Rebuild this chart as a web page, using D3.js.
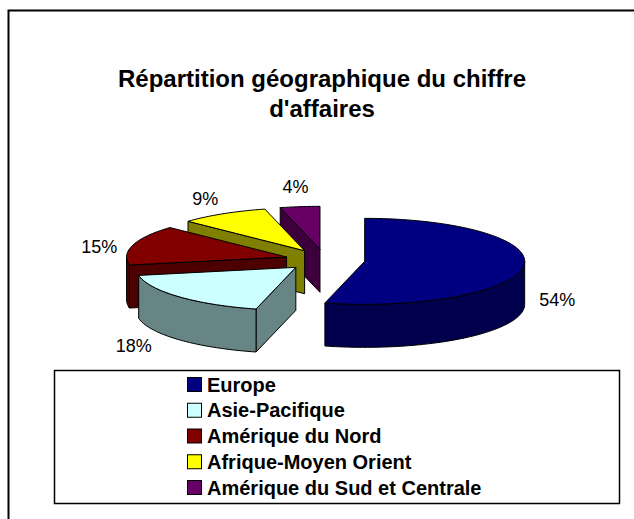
<!DOCTYPE html>
<html>
<head>
<meta charset="utf-8">
<script src="https://cdn.jsdelivr.net/npm/d3@7"></script>
<style>
  body { margin: 0; background: #fff; }
  text { font-family: "Liberation Sans", Arial, sans-serif; }
</style>
</head>
<body>
<div id="chart"></div>
<script>
// data
var categories = ["Europe", "Asie-Pacifique", "Amérique du Nord", "Afrique-Moyen Orient", "Amérique du Sud et Centrale"];
var values = [54, 18, 15, 9, 4];
var topColors = ["#000080", "#ccffff", "#800000", "#ffff00", "#660066"];
var sideColors = ["#00004d", "#668584", "#4d0000", "#808000", "#3d003d"];
var titleLines = ["Répartition géographique du chiffre", "d'affaires"];

var svgWidth = 634;
var svgHeight = 519;

var svg = d3.select("#chart")
    .append("svg")
    .attr("width", svgWidth)
    .attr("height", svgHeight);

// outer frame (runs off the right and bottom edges)
svg.append("rect")
    .attr("x", 8.5)
    .attr("y", 10.5)
    .attr("width", 640)
    .attr("height", 520)
    .attr("fill", "#fff")
    .attr("stroke", "#000")
    .attr("stroke-width", 2);

// title
svg.append("g").selectAll("text")
    .data(titleLines)
    .enter()
    .append("text")
    .attr("x", 322)
    .attr("y", (d, i) => 87 + i * 30)
    .attr("text-anchor", "middle")
    .attr("font-size", "24px")
    .attr("font-weight", "bold")
    .text(d => d);

// pie geometry (3D, exploded)
var cx0 = 325, cy0 = 260;
var rx = 160, ry = 43, depth = 43;
var explode = 0.25;

var color = d3.scaleOrdinal().domain(categories).range(topColors);
var sideColor = d3.scaleOrdinal().domain(categories).range(sideColors);

var pie = d3.pie().sort(null).value(d => d.value);
var arcs = pie(categories.map((c, i) => ({ name: c, value: values[i] })));
var total = d3.sum(values);

function pt(cx, cy, a, dy) {
    return [cx + rx * Math.sin(a), cy - ry * Math.cos(a) + (dy || 0)];
}
function arcPts(cx, cy, a0, a1, dy) {
    var n = Math.max(2, Math.ceil(Math.abs(a1 - a0) / 0.03));
    return d3.range(n + 1).map(k => pt(cx, cy, a0 + (a1 - a0) * k / n, dy));
}
var line = d3.line().curve(d3.curveLinear);

arcs.forEach(function(d) {
    var mid = (d.startAngle + d.endAngle) / 2;
    d.cx = cx0 + explode * rx * Math.sin(mid);
    d.cy = cy0 - explode * ry * Math.cos(mid);
    d.mid = mid;
});

var pieGroup = svg.append("g");
var order = arcs.slice().sort((a, b) => a.cy - b.cy);

order.forEach(function(d) {
    var g = pieGroup.append("g");
    var a0 = d.startAngle, a1 = d.endAngle;
    var side = sideColor(d.data.name);
    // start radial face
    if (Math.sin(a0) < -1e-6) {
        var p = pt(d.cx, d.cy, a0);
        g.append("path")
            .attr("d", line([[d.cx, d.cy], p, [p[0], p[1] + depth], [d.cx, d.cy + depth]]) + "Z")
            .attr("fill", side).attr("stroke", "#000").attr("stroke-width", 1)
            .attr("stroke-linejoin", "round");
    }
    // end radial face
    if (Math.sin(a1) > 1e-6) {
        var q = pt(d.cx, d.cy, a1);
        g.append("path")
            .attr("d", line([[d.cx, d.cy], q, [q[0], q[1] + depth], [d.cx, d.cy + depth]]) + "Z")
            .attr("fill", side).attr("stroke", "#000").attr("stroke-width", 1)
            .attr("stroke-linejoin", "round");
    }
    // curved outer side (front half only)
    var s = Math.max(a0, Math.PI / 2), e = Math.min(a1, 3 * Math.PI / 2);
    if (e > s) {
        var topArc = arcPts(d.cx, d.cy, s, e, 0);
        var botArc = arcPts(d.cx, d.cy, e, s, depth);
        g.append("path")
            .attr("d", line(topArc.concat(botArc)) + "Z")
            .attr("fill", side).attr("stroke", "#000").attr("stroke-width", 1)
            .attr("stroke-linejoin", "round");
    }
    // top face
    g.append("path")
        .attr("d", line([[d.cx, d.cy]].concat(arcPts(d.cx, d.cy, a0, a1, 0))) + "Z")
        .attr("fill", color(d.data.name)).attr("stroke", "#000").attr("stroke-width", 1)
        .attr("stroke-linejoin", "round");
});

// percentage labels, placed round the exploded slices
svg.append("g").selectAll("text")
    .data(arcs)
    .enter()
    .append("text")
    .attr("x", function(d) {
        var sn = Math.sin(d.mid), cs = Math.cos(d.mid);
        return d.cx + 195 * sn + 40 * sn * Math.max(0, -cs) - 6 * Math.max(0, sn);
    })
    .attr("y", function(d) {
        var sn = Math.sin(d.mid), cs = Math.cos(d.mid);
        return d.cy + 22 - 85 * cs + 6 * Math.max(0, sn) - 10 * Math.pow(Math.max(0, -sn), 6);
    })
    .attr("text-anchor", "middle")
    .attr("dominant-baseline", "central")
    .attr("font-size", "18px")
    .text(d => d3.format(".0%")(d.data.value / total));

// legend
svg.append("rect")
    .attr("x", 54.5)
    .attr("y", 370.5)
    .attr("width", 565)
    .attr("height", 133)
    .attr("fill", "#fff")
    .attr("stroke", "#000")
    .attr("stroke-width", 1.5);

var legendY = d3.scalePoint().domain(categories).range([384.5, 487.5]);

var legend = svg.append("g").selectAll("g")
    .data(categories)
    .enter()
    .append("g")
    .attr("transform", d => `translate(187, ${legendY(d)})`);

legend.append("rect")
    .attr("x", 0.5)
    .attr("y", -7)
    .attr("width", 14)
    .attr("height", 14)
    .attr("fill", d => color(d))
    .attr("stroke", "#000")
    .attr("stroke-width", 1);

legend.append("text")
    .attr("x", 20)
    .attr("y", 0)
    .attr("dominant-baseline", "central")
    .attr("font-size", "20px")
    .attr("font-weight", "bold")
    .text(d => d);
</script>
</body>
</html>
